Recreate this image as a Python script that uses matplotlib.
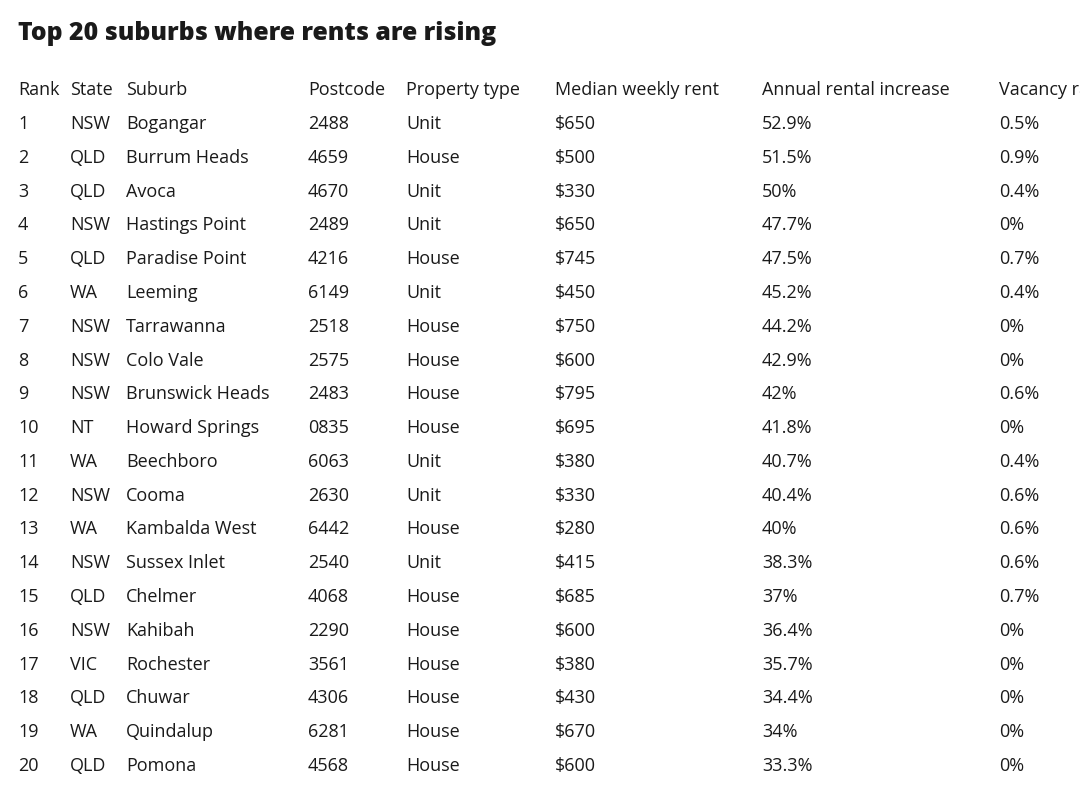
import matplotlib
matplotlib.use("Agg")
import matplotlib.pyplot as plt

title = "Top 20 suburbs where rents are rising"
headers = ["Rank", "State", "Suburb", "Postcode", "Property type",
           "Median weekly rent", "Annual rental increase", "Vacancy rate"]
ranks = [str(i) for i in range(1, 21)]
states = ["NSW", "QLD", "QLD", "NSW", "QLD", "WA", "NSW", "NSW", "NSW", "NT",
          "WA", "NSW", "WA", "NSW", "QLD", "NSW", "VIC", "QLD", "WA", "QLD"]
suburbs = ["Bogangar", "Burrum Heads", "Avoca", "Hastings Point", "Paradise Point",
           "Leeming", "Tarrawanna", "Colo Vale", "Brunswick Heads", "Howard Springs",
           "Beechboro", "Cooma", "Kambalda West", "Sussex Inlet", "Chelmer",
           "Kahibah", "Rochester", "Chuwar", "Quindalup", "Pomona"]
postcodes = ["2488", "4659", "4670", "2489", "4216", "6149", "2518", "2575", "2483", "0835",
             "6063", "2630", "6442", "2540", "4068", "2290", "3561", "4306", "6281", "4568"]
ptypes = ["Unit", "House", "Unit", "Unit", "House", "Unit", "House", "House", "House", "House",
          "Unit", "Unit", "House", "Unit", "House", "House", "House", "House", "House", "House"]
rents = ["$650", "$500", "$330", "$650", "$745", "$450", "$750", "$600", "$795", "$695",
         "$380", "$330", "$280", "$415", "$685", "$600", "$380", "$430", "$670", "$600"]
increases = ["52.9%", "51.5%", "50%", "47.7%", "47.5%", "45.2%", "44.2%", "42.9%", "42%", "41.8%",
             "40.7%", "40.4%", "40%", "38.3%", "37%", "36.4%", "35.7%", "34.4%", "34%", "33.3%"]
vacancy = ["0.5%", "0.9%", "0.4%", "0%", "0.7%", "0.4%", "0%", "0%", "0.6%", "0%",
           "0.4%", "0.6%", "0.6%", "0.6%", "0.7%", "0%", "0%", "0%", "0%", "0%"]

columns = [ranks, states, suburbs, postcodes, ptypes, rents, increases, vacancy]
col_x = [18, 70, 126, 308, 406, 555, 762, 999]

W, H = 1080, 788
fig = plt.figure(figsize=(W / 100, H / 100), dpi=100)
ax = fig.add_axes([0, 0, 1, 1])
ax.set_xlim(0, W)
ax.set_ylim(H, 0)
ax.axis("off")

font = ["Open Sans", "DejaVu Sans"]
color = "#1a1a1a"
ax.text(18, 33, title, fontsize=17.8, fontweight=800, family=font, color=color,
        va="center", ha="left")

header_y = 90
row_y0 = 124
row_step = (766 - 124) / 19
for x, h in zip(col_x, headers):
    ax.text(x, header_y, h, fontsize=13, family=font, color=color, va="center", ha="left")
for x, col in zip(col_x, columns):
    for i, v in enumerate(col):
        ax.text(x, row_y0 + i * row_step, v, fontsize=13, family=font, color=color,
                va="center", ha="left")

fig.savefig("out.png", dpi=100)
